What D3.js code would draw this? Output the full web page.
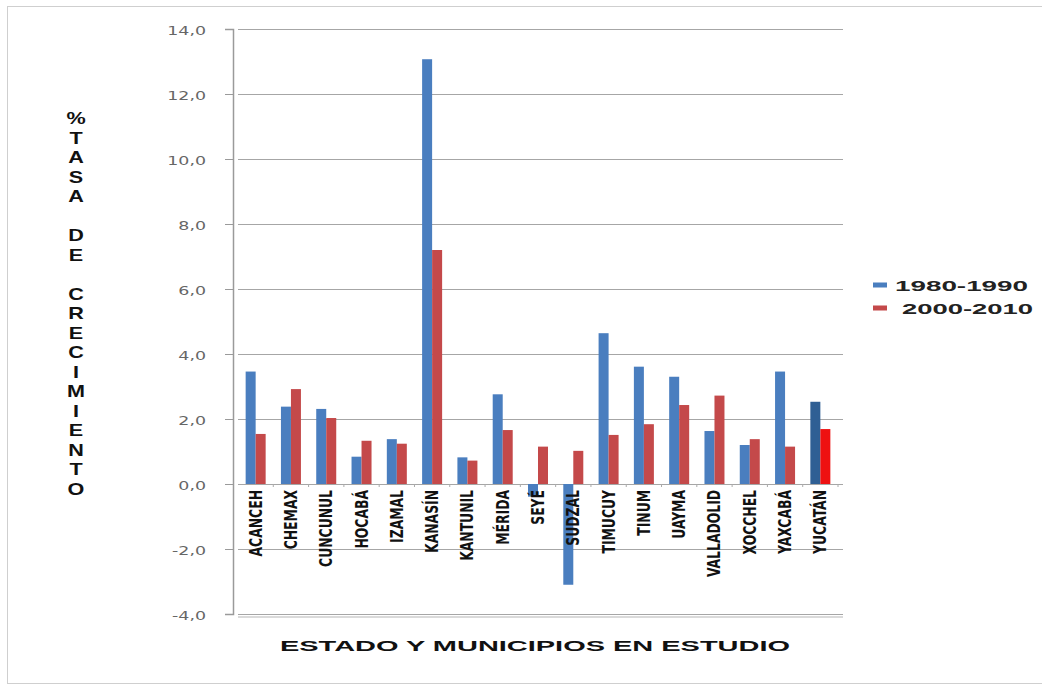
<!DOCTYPE html>
<html><head><meta charset="utf-8">
<script src="https://cdn.jsdelivr.net/npm/d3@7"></script>
<style>body{margin:0;background:#fff}svg{display:block}</style>
</head><body>
<script>
const categories = ["ACANCEH","CHEMAX","CUNCUNUL","HOCABÁ","IZAMAL","KANASÍN","KANTUNIL","MÉRIDA","SEYÉ","SUDZAL","TIMUCUY","TINUM","UAYMA","VALLADOLID","XOCCHEL","YAXCABÁ","YUCATÁN"];
const s1980 = [3.46,2.38,2.31,0.84,1.38,13.07,0.82,2.76,-0.39,-3.1,4.64,3.61,3.30,1.63,1.20,3.46,2.53];
const s2000 = [1.54,2.92,2.03,1.33,1.24,7.20,0.72,1.66,1.15,1.02,1.51,1.84,2.43,2.72,1.38,1.15,1.69];
const seriesNames = ["1980-1990","2000-2010"];
const yTicks = [-4,-2,0,2,4,6,8,10,12,14];
const yTitle = ["%","T","A","S","A","","D","E","","C","R","E","C","I","M","I","E","N","T","O"];
const xTitle = "ESTADO Y MUNICIPIOS EN ESTUDIO";

const W=1042,H=689;
const svg=d3.select("body").append("svg").attr("width",W).attr("height",H);
svg.append("rect").attr("x",7.5).attr("y",6.5).attr("width",1040).attr("height",677).attr("fill","#fff").attr("stroke","#cfcfcf");

const y=d3.scaleLinear().domain([-4,14]).range([614,29]);
const x=d3.scaleBand().domain(categories).range([238,838]);
const bw=10;

// gridlines
yTicks.forEach(t=>{
  const yy=Math.round(y(t))+0.5;
  svg.append("line").attr("x1",238).attr("x2",843).attr("y1",yy).attr("y2",yy).attr("stroke","#a6a6a6").attr("stroke-width",1.2);
});
svg.append("line").attr("x1",238).attr("x2",843).attr("y1",y(-4)+3).attr("y2",y(-4)+3).attr("stroke","#b5b5b5").attr("stroke-width",1);
// y axis
const yAxis=d3.axisLeft(y).tickValues(yTicks).tickSize(8).tickFormat(d=>d.toFixed(1).replace(".",","));
const ga=svg.append("g").attr("transform","translate(233,0)").call(yAxis);
ga.select(".domain").attr("stroke","#9a9a9a").attr("stroke-width",1.5);
ga.selectAll(".tick line").attr("stroke","#9a9a9a");
ga.selectAll(".tick text").attr("fill","#666").attr("font-family","DejaVu Sans").attr("font-size",12)
  .attr("x",0).attr("dx",null)
  .attr("transform","translate(-27,2) scale(1.45,1)");

// category ticks on zero line
categories.forEach(c=>{
  const xx=x(c)+x.bandwidth();
  svg.append("line").attr("x1",xx).attr("x2",xx).attr("y1",y(0)).attr("y2",y(0)+3).attr("stroke","#aaa");
});

// bars
const c1=categories.map((c,i)=>({c,v:s1980[i],last:i===categories.length-1}));
const c2=categories.map((c,i)=>({c,v:s2000[i],last:i===categories.length-1}));
const mid=c=>x(c)+x.bandwidth()/2;
svg.append("g").selectAll("rect").data(c1).join("rect")
  .attr("x",d=>mid(d.c)-bw).attr("width",bw)
  .attr("y",d=>y(Math.max(0,d.v))).attr("height",d=>Math.abs(y(d.v)-y(0)))
  .attr("fill",d=>d.last?"#2f5f94":"#4a7ebf");
svg.append("g").selectAll("rect").data(c2).join("rect")
  .attr("x",d=>mid(d.c)).attr("width",bw)
  .attr("y",d=>y(Math.max(0,d.v))).attr("height",d=>Math.abs(y(d.v)-y(0)))
  .attr("fill",d=>d.last?"#ee1111":"#c4494a");

// category labels
svg.append("g").selectAll("text").data(categories).join("text")
  .attr("transform",c=>`translate(${mid(c)+6},490) rotate(-90) scale(0.86,1.05)`)
  .attr("text-anchor","end")
  .attr("font-family","'Liberation Sans Narrow','DejaVu Sans Condensed',sans-serif")
  .attr("font-weight","bold").attr("font-size",16).attr("fill","#111")
  .text(c=>c);

// y title
svg.append("g").selectAll("text").data(yTitle).join("text")
  .attr("x",0).attr("y",0)
  .attr("text-anchor","middle")
  .attr("font-family","Liberation Sans, Arial, sans-serif").attr("font-weight","bold").attr("font-size",16)
  .attr("transform",(d,i)=>`translate(76,${124+i*19.5}) scale(1.35,1)`)
  .attr("fill","#111").text(d=>d);

// x title
svg.append("text").attr("x",280).attr("y",651)
  .attr("font-family","Liberation Sans, Arial, sans-serif").attr("font-weight","bold").attr("font-size",15)
  .attr("textLength",510).attr("lengthAdjust","spacingAndGlyphs")
  .attr("fill","#111").text(xTitle);

// legend
const lcol=["#4a7ebf","#c4494a"];
const lx=[895,902], lw=[133,131], lyc=[285,308];
const lg=svg.append("g");
seriesNames.forEach((n,i)=>{
  lg.append("rect").attr("x",873).attr("y",lyc[i]-2.5).attr("width",14).attr("height",5).attr("fill",lcol[i]);
  lg.append("text").attr("x",lx[i]).attr("y",lyc[i]+5.5)
    .attr("font-family","Liberation Sans, Arial, sans-serif").attr("font-weight","bold").attr("font-size",15)
    .attr("textLength",lw[i]).attr("lengthAdjust","spacingAndGlyphs").attr("fill","#222").text(n);
});
</script>
</body></html>
